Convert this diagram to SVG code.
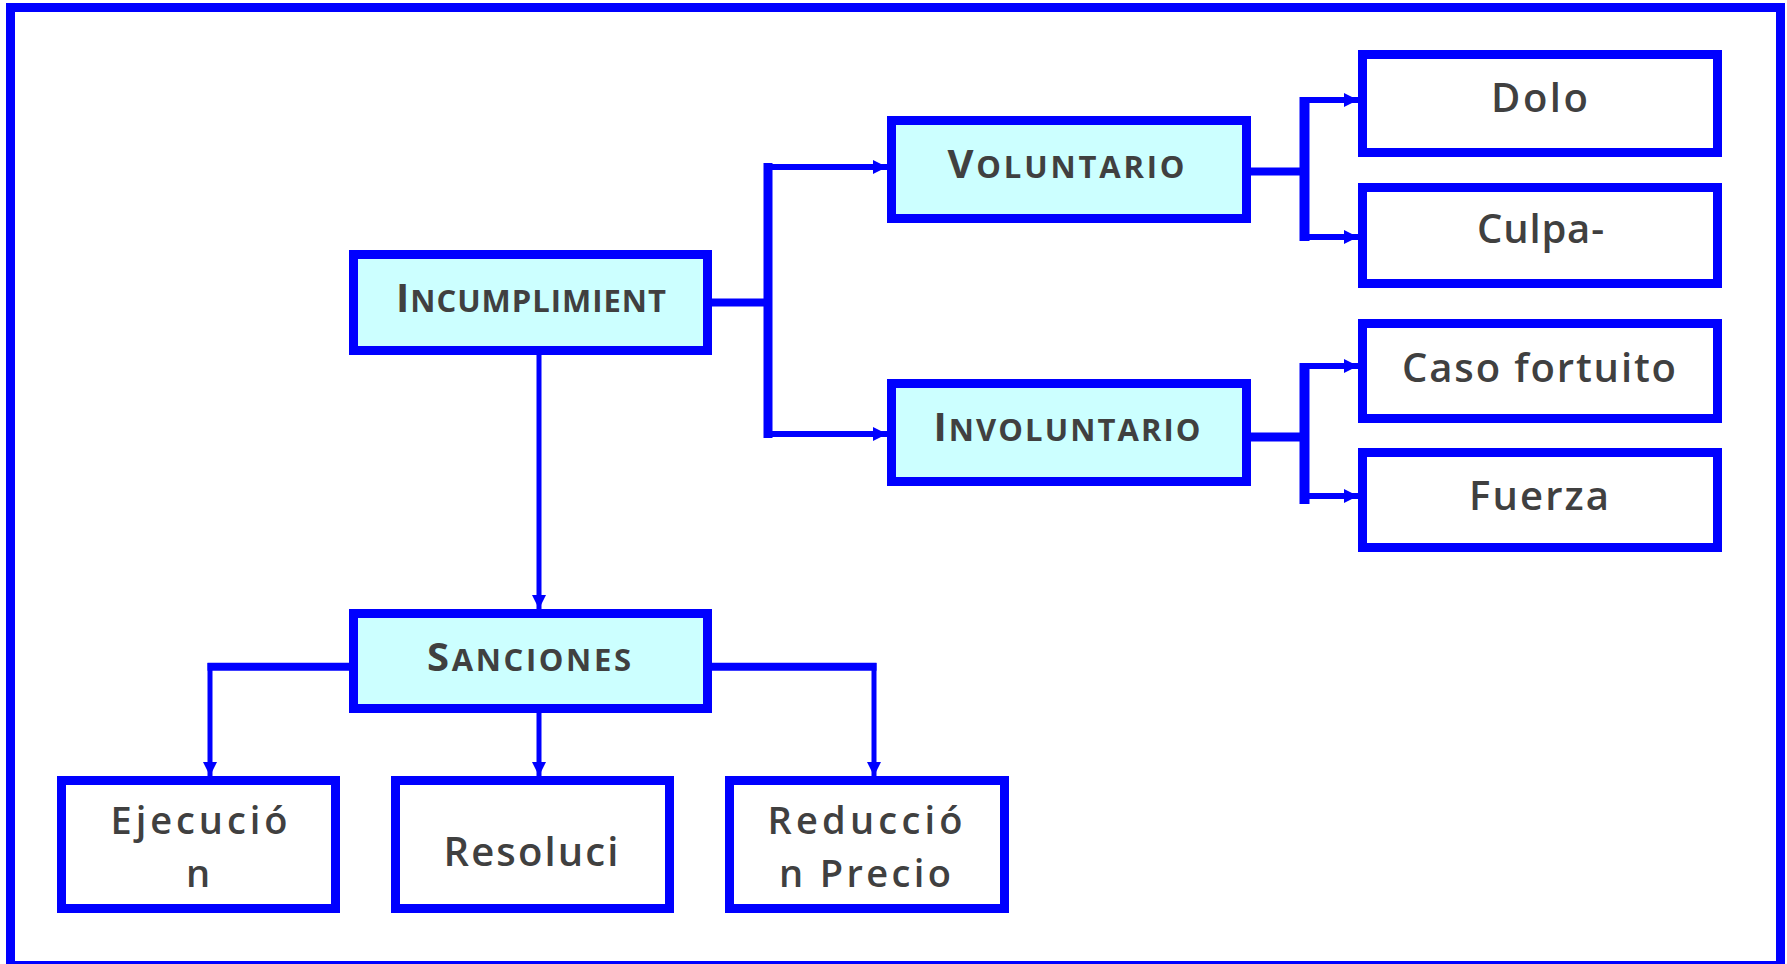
<svg xmlns="http://www.w3.org/2000/svg" width="1787" height="964" viewBox="0 0 1787 964">
  <defs>
    <marker id="arr" markerUnits="userSpaceOnUse" markerWidth="16" markerHeight="16" refX="14" refY="7" orient="auto">
      <path d="M0,0 L14,7 L0,14 z" fill="#0000FF"/>
    </marker>
    <style>
      .frame{fill:#FFFFFF;stroke:#0000FF;stroke-width:9}
      .hdr{fill:#CCFFFF;stroke:#0000FF;stroke-width:9}
      .box{fill:#FFFFFF;stroke:#0000FF;stroke-width:9}
      .t{font-family:"Open Sans","DejaVu Sans",sans-serif;font-weight:600;fill:#404040;text-anchor:middle}
      .h{font-weight:700}
      .big{font-size:40px}
      .two{font-size:38px}
      .sc{font-size:31px}
      .w{stroke:#0000FF;fill:none}
      .a{stroke:#0000FF;fill:none;marker-end:url(#arr)}
    </style>
  </defs>
  <rect x="0" y="0" width="1787" height="964" fill="#FFFFFF"/>
  <rect class="frame" x="10.5" y="7.5" width="1770" height="958"/>

  <g id="connectors">
    <line class="w" x1="712" y1="302.5" x2="768" y2="302.5" stroke-width="8"/>
    <line class="w" x1="768" y1="163" x2="768" y2="438" stroke-width="9"/>
    <line class="a" x1="764" y1="167" x2="887" y2="167" stroke-width="6"/>
    <line class="a" x1="764" y1="434" x2="887" y2="434" stroke-width="6"/>

    <line class="w" x1="1251" y1="171.5" x2="1304.5" y2="171.5" stroke-width="8"/>
    <line class="w" x1="1304.5" y1="97" x2="1304.5" y2="241" stroke-width="10"/>
    <line class="a" x1="1300" y1="100" x2="1358" y2="100" stroke-width="6"/>
    <line class="a" x1="1300" y1="237" x2="1358" y2="237" stroke-width="6"/>

    <line class="w" x1="1251" y1="437" x2="1304.5" y2="437" stroke-width="9"/>
    <line class="w" x1="1304.5" y1="363" x2="1304.5" y2="504" stroke-width="10"/>
    <line class="a" x1="1300" y1="366" x2="1358" y2="366" stroke-width="6"/>
    <line class="a" x1="1300" y1="496" x2="1358" y2="496" stroke-width="6"/>

    <line class="a" x1="539" y1="355" x2="539" y2="609" stroke-width="5"/>

    <line class="w" x1="349" y1="666.7" x2="207.5" y2="666.7" stroke-width="8"/>
    <line class="a" x1="210" y1="663" x2="210" y2="776" stroke-width="5"/>
    <line class="a" x1="539" y1="713" x2="539" y2="776" stroke-width="5"/>
    <line class="w" x1="712" y1="666.7" x2="876.5" y2="666.7" stroke-width="8"/>
    <line class="a" x1="874" y1="663" x2="874" y2="776" stroke-width="5"/>
  </g>

  <g id="incumplimiento">
    <rect class="hdr" x="353.5" y="254.5" width="354" height="96"/>
    <text class="t h" x="531" y="312" textLength="270" lengthAdjust="spacing"><tspan class="big">I</tspan><tspan class="sc">NCUMPLIMIENT</tspan></text>
  </g>
  <g id="voluntario">
    <rect class="hdr" x="891.5" y="120.5" width="355" height="98"/>
    <text class="t h" x="1066" y="178" textLength="237" lengthAdjust="spacing"><tspan class="big">V</tspan><tspan class="sc">OLUNTARIO</tspan></text>
  </g>
  <g id="involuntario">
    <rect class="hdr" x="891.5" y="383.5" width="355" height="98"/>
    <text class="t h" x="1067" y="441" textLength="267" lengthAdjust="spacing"><tspan class="big">I</tspan><tspan class="sc">NVOLUNTARIO</tspan></text>
  </g>
  <g id="sanciones">
    <rect class="hdr" x="353.5" y="613.5" width="354" height="95"/>
    <text class="t h" x="529" y="671" textLength="204" lengthAdjust="spacing"><tspan class="big">S</tspan><tspan class="sc">ANCIONES</tspan></text>
  </g>

  <g id="dolo">
    <rect class="box" x="1362.5" y="54.5" width="355" height="98"/>
    <text class="t big" x="1539.5" y="112" textLength="97" lengthAdjust="spacing">Dolo</text>
  </g>
  <g id="culpa">
    <rect class="box" x="1362.5" y="187.5" width="355" height="96"/>
    <text class="t big" x="1540.5" y="243" textLength="127" lengthAdjust="spacing">Culpa-</text>
  </g>
  <g id="caso-fortuito">
    <rect class="box" x="1362.5" y="323.5" width="355" height="95"/>
    <text class="t big" x="1539" y="382" textLength="274" lengthAdjust="spacing">Caso fortuito</text>
  </g>
  <g id="fuerza">
    <rect class="box" x="1362.5" y="452.5" width="355" height="95"/>
    <text class="t big" x="1539" y="510" textLength="140" lengthAdjust="spacing">Fuerza</text>
  </g>

  <g id="ejecucion">
    <rect class="box" x="61.5" y="780.5" width="274" height="128"/>
    <text class="t two" x="199" y="834" textLength="177" lengthAdjust="spacing">Ejecució</text>
    <text class="t two" x="198" y="887">n</text>
  </g>
  <g id="resolucion">
    <rect class="box" x="395.5" y="780.5" width="274" height="128"/>
    <text class="t big" x="531" y="866" textLength="175" lengthAdjust="spacing">Resoluci</text>
  </g>
  <g id="reduccion">
    <rect class="box" x="729.5" y="780.5" width="275" height="128"/>
    <text class="t two" x="865" y="834" textLength="195" lengthAdjust="spacing">Reducció</text>
    <text class="t two" x="865" y="887" textLength="172" lengthAdjust="spacing">n Precio</text>
  </g>
</svg>
